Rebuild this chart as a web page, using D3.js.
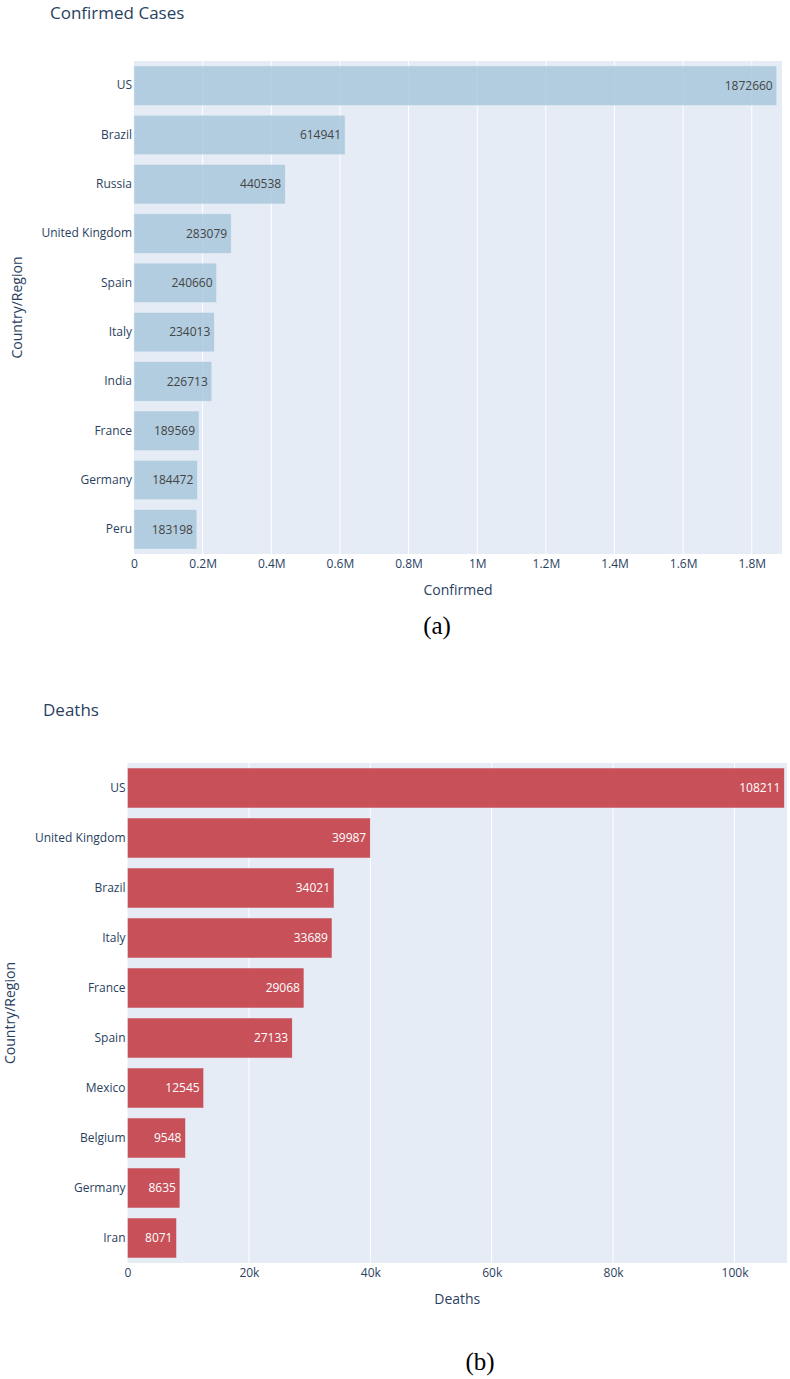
<!DOCTYPE html>
<html><head><meta charset="utf-8">
<script src="https://cdn.jsdelivr.net/npm/d3@7"></script>
<style>
body{margin:0;background:#fff;}
svg{display:block;font-family:"Open Sans",sans-serif;}
</style></head>
<body>
<svg id="chart" width="790" height="1379"></svg>
<script>
// ---- data ----
const confirmedCountries = ["US","Brazil","Russia","United Kingdom","Spain","Italy","India","France","Germany","Peru"];
const confirmedValues = [1872660,614941,440538,283079,240660,234013,226713,189569,184472,183198];
const confirmedTicks = [0,200000,400000,600000,800000,1000000,1200000,1400000,1600000,1800000];
const confirmedTickLabels = ["0","0.2M","0.4M","0.6M","0.8M","1M","1.2M","1.4M","1.6M","1.8M"];

const deathCountries = ["US","United Kingdom","Brazil","Italy","France","Spain","Mexico","Belgium","Germany","Iran"];
const deathValues = [108211,39987,34021,33689,29068,27133,12545,9548,8635,8071];
const deathTicks = [0,20000,40000,60000,80000,100000];
const deathTickLabels = ["0","20k","40k","60k","80k","100k"];

const svg = d3.select("#chart");

function drawChart(cfg){
  const g = svg.append("g");
  const x = d3.scaleLinear().domain([0, cfg.xMax]).range([cfg.left, cfg.right]);
  const y = d3.scaleBand().domain(cfg.cats).range([cfg.top, cfg.bottom]).paddingInner(0.2).paddingOuter(0.1);
  g.append("rect").attr("x",cfg.left).attr("y",cfg.top)
    .attr("width",cfg.right-cfg.left).attr("height",cfg.bottom-cfg.top).attr("fill","#e5ecf6");
  g.selectAll(".grid").data(cfg.ticks.slice(1)).enter().append("line")
    .attr("x1",d=>x(d)).attr("x2",d=>x(d)).attr("y1",cfg.top).attr("y2",cfg.bottom)
    .attr("stroke","#fff").attr("stroke-width",1);
  const data = cfg.cats.map((c,i)=>({c, v:cfg.vals[i]}));
  g.selectAll(".bar").data(data).enter().append("rect")
    .attr("x",x(0)).attr("y",d=>y(d.c)).attr("width",d=>x(d.v)-x(0)).attr("height",y.bandwidth())
    .attr("fill",cfg.color).attr("fill-opacity",cfg.opacity)
    .attr("stroke","#e5ecf6").attr("stroke-width",0.5);
  g.selectAll(".bt").data(data).enter().append("text")
    .attr("x",d=>x(d.v)-4).attr("y",d=>y(d.c)+y.bandwidth()/2).attr("dy","0.35em")
    .attr("text-anchor","end").attr("font-size",12).attr("fill",cfg.textColor)
    .text(d=>d.v);
  const ya = d3.axisLeft(y).tickSize(0).tickPadding(2);
  const yg = g.append("g").attr("transform",`translate(${cfg.left},0)`).call(ya);
  yg.select(".domain").remove();
  yg.selectAll("text").attr("font-size",12).attr("fill","#2a3f5f").attr("font-family","Open Sans");
  const xa = d3.axisBottom(x).tickValues(cfg.ticks).tickFormat((d,i)=>cfg.tickLabels[i]).tickSize(0).tickPadding(5);
  const xg = g.append("g").attr("transform",`translate(0,${cfg.bottom})`).call(xa);
  xg.select(".domain").remove();
  xg.selectAll("text").attr("font-size",12).attr("fill","#2a3f5f").attr("font-family","Open Sans");
  g.append("text").attr("x",cfg.titleX).attr("y",cfg.titleY).attr("font-size",17).attr("fill","#2a3f5f").text(cfg.title);
  g.append("text").attr("x",(cfg.left+cfg.right)/2).attr("y",cfg.bottom+41).attr("text-anchor","middle")
    .attr("font-size",14).attr("fill","#2a3f5f").text(cfg.xTitle);
  g.append("text").attr("transform",`translate(${cfg.yTitleX},${(cfg.top+cfg.bottom)/2}) rotate(-90)`)
    .attr("text-anchor","middle").attr("font-size",14).attr("fill","#2a3f5f").text("Country/Region");
  g.append("text").attr("x",cfg.capX).attr("y",cfg.capY).attr("text-anchor","middle")
    .attr("font-family","Liberation Serif, Times New Roman, serif").attr("font-size",25).attr("fill","#000").text(cfg.caption);
}

drawChart({cats:confirmedCountries, vals:confirmedValues, ticks:confirmedTicks, tickLabels:confirmedTickLabels,
  xMax:1888000, left:134, right:782, top:61, bottom:554,
  color:"#a9c8dc", opacity:0.85, textColor:"#444",
  title:"Confirmed Cases", titleX:50, titleY:19, xTitle:"Confirmed", yTitleX:22,
  caption:"(a)", capX:437, capY:634});

drawChart({cats:deathCountries, vals:deathValues, ticks:deathTicks, tickLabels:deathTickLabels,
  xMax:108650, left:127.5, right:787, top:763, bottom:1263,
  color:"#c33f48", opacity:0.9, textColor:"#fff",
  title:"Deaths", titleX:43, titleY:716, xTitle:"Deaths", yTitleX:15,
  caption:"(b)", capX:480, capY:1370});
</script>
</body></html>
